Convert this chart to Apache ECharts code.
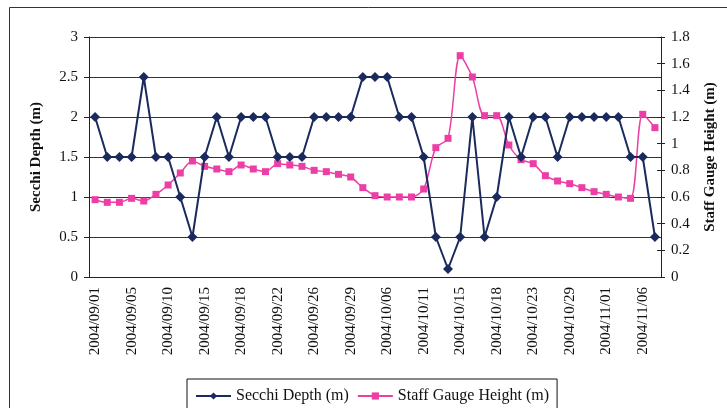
<!DOCTYPE html>
<html>
<head>
<meta charset="utf-8">
<script src="https://cdn.jsdelivr.net/npm/echarts@6/dist/echarts.min.js"></script>
<style>
  html, body { margin: 0; padding: 0; background: #fff; }
  #chart { width: 727px; height: 408px; }
</style>
</head>
<body>
<div id="chart"></div>
<script>
// dates of the samples (every third one is labelled)
var dates = [
    '2004/09/01', '2004/09/02', '2004/09/03', '2004/09/05', '2004/09/07', '2004/09/08',
    '2004/09/10', '2004/09/12', '2004/09/13', '2004/09/15', '2004/09/16', '2004/09/17',
    '2004/09/18', '2004/09/19', '2004/09/20', '2004/09/22', '2004/09/23', '2004/09/24',
    '2004/09/26', '2004/09/27', '2004/09/28', '2004/09/29', '2004/10/01', '2004/10/04',
    '2004/10/06', '2004/10/07', '2004/10/09', '2004/10/11', '2004/10/12', '2004/10/13',
    '2004/10/15', '2004/10/16', '2004/10/17', '2004/10/18', '2004/10/20', '2004/10/21',
    '2004/10/23', '2004/10/25', '2004/10/27', '2004/10/29', '2004/10/30', '2004/10/31',
    '2004/11/01', '2004/11/03', '2004/11/05', '2004/11/06', '2004/11/08'
];

// Secchi depth, left axis (m)
var secchi = [
    2, 1.5, 1.5, 1.5, 2.5, 1.5, 1.5, 1, 0.5, 1.5,
    2, 1.5, 2, 2, 2, 1.5, 1.5, 1.5, 2, 2,
    2, 2, 2.5, 2.5, 2.5, 2, 2, 1.5, 0.5, 0.1,
    0.5, 2, 0.5, 1, 2, 1.5, 2, 2, 1.5, 2,
    2, 2, 2, 2, 1.5, 1.5, 0.5
];

// staff gauge height, right axis (m)
var gauge = [
    0.58, 0.56, 0.56, 0.59, 0.57, 0.62, 0.69, 0.78, 0.87, 0.83,
    0.81, 0.79, 0.84, 0.81, 0.79, 0.85, 0.84, 0.83, 0.8, 0.79,
    0.77, 0.75, 0.67, 0.61, 0.6, 0.6, 0.6, 0.66, 0.97, 1.04,
    1.66, 1.5, 1.21, 1.21, 0.99, 0.88, 0.85, 0.76, 0.72, 0.7,
    0.67, 0.64, 0.62, 0.6, 0.59, 1.22, 1.12
];

var leftTicks = [0, 0.5, 1, 1.5, 2, 2.5, 3];
var rightTicks = [0, 0.2, 0.4, 0.6, 0.8, 1, 1.2, 1.4, 1.6, 1.8];

var blue = '#1b2a5c';
var pink = '#ec3fa6';
var font = 'Liberation Serif';

var myChart = echarts.init(document.getElementById('chart'));

var option = {
    backgroundColor: '#fff',
    animation: false,
    textStyle: { fontFamily: font, color: '#111' },
    graphic: [{
        type: 'rect',
        shape: { x: 9.5, y: 7.5, width: 740, height: 420 },
        style: { fill: 'none', stroke: '#333', lineWidth: 1 },
        silent: true
    }],
    grid: { left: 89, right: 66, top: 37, bottom: 131 },
    legend: {
        top: 379,
        left: 187,
        borderColor: '#111',
        borderWidth: 1,
        padding: [9, 8, 12, 8],
        itemGap: 8,
        itemWidth: 35,
        itemHeight: 9,
        textStyle: { fontFamily: font, fontSize: 16, color: '#111' },
        data: ['Secchi Depth (m)', 'Staff Gauge Height (m)']
    },
    xAxis: {
        type: 'category',
        data: dates,
        boundaryGap: true,
        axisLine: { lineStyle: { color: '#222' } },
        axisTick: { interval: 0, length: 5, lineStyle: { color: '#222' } },
        axisLabel: {
            interval: 2,
            rotate: 90,
            fontFamily: font,
            fontSize: 15,
            color: '#111',
            margin: 10
        }
    },
    yAxis: [{
        type: 'value',
        min: leftTicks[0],
        max: leftTicks[leftTicks.length - 1],
        interval: 0.5,
        position: 'left',
        name: 'Secchi Depth (m)',
        nameLocation: 'middle',
        nameGap: 45,
        nameTextStyle: { fontFamily: font, fontSize: 15, fontWeight: 'bold', color: '#111' },
        axisLine: { show: true, lineStyle: { color: '#222' } },
        axisTick: { show: true, length: 5, lineStyle: { color: '#222' } },
        axisLabel: { fontFamily: font, fontSize: 15, color: '#111', margin: 11 },
        splitLine: { show: true, lineStyle: { color: '#333', width: 1 } }
    }, {
        type: 'value',
        min: rightTicks[0],
        max: rightTicks[rightTicks.length - 1],
        interval: 0.2,
        position: 'right',
        name: 'Staff Gauge Height (m)',
        nameLocation: 'middle',
        nameGap: 42,
        nameRotate: 90,
        nameTextStyle: { fontFamily: font, fontSize: 15, fontWeight: 'bold', color: '#111' },
        axisLine: { show: true, lineStyle: { color: '#222' } },
        axisTick: { show: true, length: 4, lineStyle: { color: '#222' } },
        axisLabel: { fontFamily: font, fontSize: 15, color: '#111', margin: 10 },
        splitLine: { show: false }
    }, {
        // inner half of the crossing ticks on the right axis
        type: 'value',
        min: rightTicks[0],
        max: rightTicks[rightTicks.length - 1],
        interval: 0.2,
        position: 'right',
        axisLine: { show: false },
        axisTick: { show: true, inside: true, length: 4, lineStyle: { color: '#222' } },
        axisLabel: { show: false },
        splitLine: { show: false }
    }],
    series: [{
        name: 'Secchi Depth (m)',
        type: 'line',
        yAxisIndex: 0,
        data: secchi,
        symbol: 'diamond',
        symbolSize: 10,
        showAllSymbol: true,
        itemStyle: { color: blue },
        lineStyle: { color: blue, width: 2 },
        z: 3
    }, {
        name: 'Staff Gauge Height (m)',
        type: 'line',
        yAxisIndex: 1,
        data: gauge,
        smooth: 0.3,
        symbol: 'rect',
        symbolSize: 7,
        showAllSymbol: true,
        itemStyle: { color: pink },
        lineStyle: { color: pink, width: 1.5 },
        z: 2
    }]
};

myChart.setOption(option);
</script>
</body>
</html>
